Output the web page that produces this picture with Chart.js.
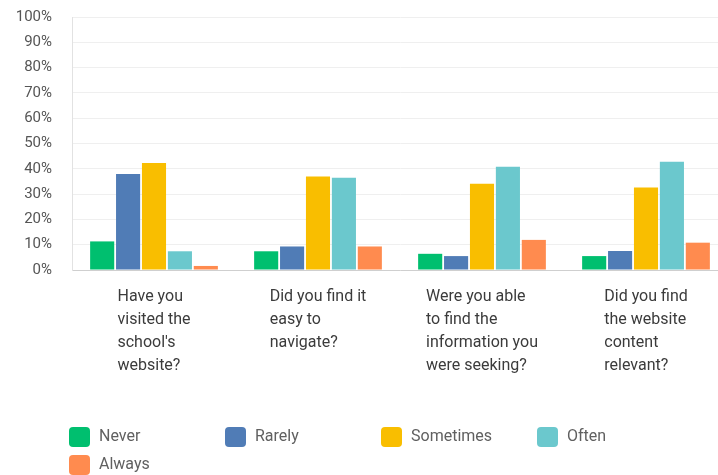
<!DOCTYPE html>
<html>
<head>
<meta charset="utf-8">
<script src="https://cdn.jsdelivr.net/npm/chart.js@4/dist/chart.umd.min.js"></script>
<style>
html,body{margin:0;padding:0;background:#fff;overflow:hidden;}
#wrap{position:relative;width:728px;height:475px;}
</style>
</head>
<body>
<div id="wrap"><canvas id="c"></canvas></div>
<script>
const categories = [
  ["Have you", "visited the", "school's", "website?"],
  ["Did you find it", "easy to", "navigate?"],
  ["Were you able", "to find the", "information you", "were seeking?"],
  ["Did you find", "the website", "content", "relevant?"]
];
const seriesNames = ["Never", "Rarely", "Sometimes", "Often", "Always"];
const never = [11.3, 7.4, 6.4, 5.5];
const rarely = [37.9, 9.3, 5.5, 7.5];
const sometimes = [42.3, 37.0, 34.1, 32.6];
const often = [7.4, 36.5, 40.8, 42.8];
const always = [1.6, 9.3, 11.9, 10.8];
const yTicks = [0, 10, 20, 30, 40, 50, 60, 70, 80, 90, 100];
const colors = ["#00bf6f", "#507cb6", "#f9be00", "#6bc8cd", "#ff8b4f"];

const seriesValues = [never, rarely, sometimes, often, always];

const labelPlugin = {
  id: 'customLabels',
  afterDraw(chart) {
    const ctx = chart.ctx;
    const xs = chart.scales.x;
    const area = chart.chartArea;
    ctx.save();
    ctx.font = '16px Roboto, "Liberation Sans", sans-serif';
    ctx.fillStyle = '#3b3b3b';
    ctx.textBaseline = 'middle';
    ctx.textAlign = 'left';
    categories.forEach((lines, i) => {
      const cx = xs.getPixelForValue(i);
      let w = 0;
      lines.forEach(l => { w = Math.max(w, ctx.measureText(l).width); });
      const left = cx - w / 2;
      lines.forEach((l, k) => {
        ctx.fillText(l, left, area.bottom + 27 + k * 23);
      });
    });
    // legend
    ctx.font = '16px Roboto, "Liberation Sans", sans-serif';
    chart.data.datasets.forEach((ds, i) => {
      const row = Math.floor(i / 4), col = i % 4;
      const x = 69 + col * 156;
      const y = 427 + row * 28;
      ctx.fillStyle = ds.backgroundColor;
      ctx.beginPath();
      ctx.roundRect(x, y, 21, 20, 4);
      ctx.fill();
      ctx.fillStyle = '#606060';
      ctx.fillText(ds.label, x + 30, y + 10);
    });
    ctx.restore();
  }
};

new Chart(document.getElementById('c'), {
  type: 'bar',
  data: {
    labels: categories.map(l => l.join(' ')),
    datasets: seriesNames.map((n, i) => ({
      label: n,
      data: seriesValues[i],
      backgroundColor: colors[i],
      borderWidth: 0,
      categoryPercentage: 0.79,
      barPercentage: 0.93
    }))
  },
  options: {
    responsive: true,
    maintainAspectRatio: false,
    animation: false,
    layout: { padding: { top: 17, bottom: 205, right: 0, left: 0 } },
    plugins: {
      legend: { display: false },
      tooltip: { enabled: false }
    },
    scales: {
      x: {
        ticks: { display: false },
        grid: { display: false, drawTicks: false },
        border: { display: true, color: '#cfcfcf', width: 1 }
      },
      y: {
        min: 0,
        max: 100,
        afterBuildTicks(scale) { scale.ticks = yTicks.map(v => ({ value: v })); },
        afterFit(scale) { scale.width = 72; scale.paddingTop = 0; scale.paddingBottom = 0; },
        ticks: {
          padding: 20,
          color: '#555',
          font: { family: 'Roboto, "Liberation Sans", sans-serif', size: 15 },
          callback: v => v + '%'
        },
        grid: { color: '#efefef', drawTicks: false },
        border: { display: true, color: '#e2e2e2' }
      }
    }
  },
  plugins: [labelPlugin]
});
</script>
</body>
</html>
